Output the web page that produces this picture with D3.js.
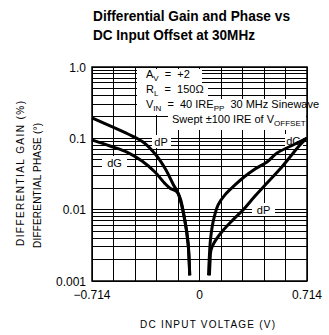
<!DOCTYPE html>
<html><head><meta charset="utf-8">
<script src="https://cdn.jsdelivr.net/npm/d3@7"></script>
<style>
html,body{margin:0;padding:0;background:#fff;}
svg{display:block;}
</style></head>
<body>
<script>
// ---------- data ----------
const titleLines = ["Differential Gain and Phase vs", "DC Input Offset at 30MHz"];
const xTickValues = [-0.714, 0, 0.714];
const xTickLabels = ["\u22120.714", "0", "0.714"];
const yTickValues = [1.0, 0.1, 0.01, 0.001];
const yTickLabels = ["1.0", "0.1", "0.01", "0.001"];
const xAxisTitle = "DC INPUT VOLTAGE (V)";
const yAxisTitle1 = "DIFFERENTIAL GAIN (%)";
const yAxisTitle2 = "DIFFERENTIAL PHASE (\u00B0)";

// left branch (negative offset)
const dGLeftX = [-0.714, -0.594, -0.482, -0.382, -0.296, -0.229, -0.196, -0.143, -0.098, -0.076, -0.065];
const dGLeftY = [0.095, 0.078, 0.064, 0.048, 0.0337, 0.0232, 0.0200, 0.0171, 0.0072, 0.0034, 0.0012];
const dPLeftX = [-0.714, -0.594, -0.475, -0.375, -0.289, -0.2225, -0.176, -0.143, -0.098, -0.076, -0.065];
const dPLeftY = [0.193, 0.149, 0.115, 0.089, 0.0584, 0.036, 0.0229, 0.0171, 0.0072, 0.0034, 0.0012];
// right branch (positive offset)
const dGRightX = [0.060, 0.066, 0.073, 0.090, 0.123, 0.169, 0.236, 0.296, 0.369, 0.448, 0.515, 0.621, 0.714];
const dGRightY = [0.0012, 0.0023, 0.0038, 0.0067, 0.0116, 0.0161, 0.0222, 0.0287, 0.0372, 0.0466, 0.0622, 0.0806, 0.101];
const dPRightX = [0.066, 0.070, 0.076, 0.096, 0.149, 0.2225, 0.289, 0.369, 0.455, 0.535, 0.601, 0.661, 0.714];
const dPRightY = [0.0012, 0.00185, 0.0027, 0.0034, 0.0049, 0.0072, 0.0099, 0.0155, 0.0244, 0.0372, 0.0547, 0.078, 0.101];

const annotationRows = [
  [{t:"A"},{t:"V",sub:true},{t:"  =  +2"}],
  [{t:"R"},{t:"L",sub:true},{t:"  =  150\u03A9"}],
  [{t:"V"},{t:"IN",sub:true},{t:"  =  40 IRE"},{t:"PP",sub:true},{t:"  30 MHz Sinewave"}],
  [{t:"Swept \u00B1100 IRE of V"},{t:"OFFSET",sub:true}]
];

// ---------- layout ----------
const pL = 92, pR = 307, pT = 67, pB = 281;
const svg = d3.select("body").append("svg").attr("width", 329).attr("height", 335);
const xS = d3.scaleLinear().domain([-0.714, 0.714]).range([pL, pR]);
const yS = d3.scaleLog().domain([0.001, 1]).range([pB, pT]);
const annoFont = "'Liberation Sans',Arial,sans-serif";

const rowBox = [[137, 68.5, 202, 84], [137, 84, 208, 99], [137, 99, 306, 114.5], [168, 114.5, 306, 130]];
const rowBase = [77.5, 92.5, 107.5, 123];
const rowX = [146, 146, 146, 172];
const seriesLabels = [
  {t:"dP", cx:161, cy:142, w:19},
  {t:"dG", cx:114.5, cy:163, w:25},
  {t:"dG", cx:293.5, cy:141, w:18},
  {t:"dP", cx:263.5, cy:210, w:23}
];
const boxes = rowBox.slice();
seriesLabels.forEach(l => boxes.push([l.cx - l.w/2, l.cy - 7, l.cx + l.w/2, l.cy + 6]));

function gaps(a0, a1, cuts) {
  cuts.sort((p, q) => p[0] - q[0]);
  const out = [];
  let cur = a0;
  cuts.forEach(c => {
    if (c[0] > cur) out.push([cur, Math.min(c[0], a1)]);
    cur = Math.max(cur, c[1]);
  });
  if (cur < a1) out.push([cur, a1]);
  return out;
}

// annotation text
annotationRows.forEach((row, i) => {
  const t = svg.append("text").attr("x", rowX[i]).attr("y", rowBase[i])
    .attr("font-family", annoFont).attr("font-size", 11)
    .attr("xml:space", "preserve");
  let shift = 0;
  row.forEach(p => {
    const target = p.sub ? 3 : 0;
    t.append("tspan").attr("font-size", p.sub ? 8 : 11)
      .attr("dy", target - shift)
      .text(p.t);
    shift = target;
  });
});

// series labels
seriesLabels.forEach(l => {
  svg.append("text").attr("x", l.cx).attr("y", l.cy + 4).attr("text-anchor", "middle")
    .attr("font-family", annoFont).attr("font-size", 11).text(l.t);
});

// title
titleLines.forEach((d, i) => {
  svg.append("text")
    .attr("x", 93).attr("y", 21 + i * 18.5)
    .attr("font-family", "'Liberation Sans Narrow','Arial Narrow','Liberation Sans',sans-serif")
    .attr("font-weight", "bold").attr("font-size", 14.5)
    .attr("textLength", i === 0 ? 197 : 162)
    .attr("lengthAdjust", "spacingAndGlyphs")
    .text(d);
});

// y tick labels
yTickValues.forEach((d, i) => {
  svg.append("text").attr("x", 86).attr("y", yS(d) + 4.5).attr("text-anchor", "end")
    .attr("font-family", annoFont).attr("font-size", 12).text(yTickLabels[i]);
});

// x tick labels
xTickValues.forEach((d, i) => {
  svg.append("text").attr("x", xS(d)).attr("y", 299).attr("text-anchor", "middle")
    .attr("font-family", annoFont).attr("font-size", 12).text(xTickLabels[i]);
});

// axis titles
svg.append("text").attr("x", 140).attr("y", 328)
  .attr("font-family", annoFont).attr("font-size", 10)
  .attr("textLength", 135).attr("lengthAdjust", "spacing")
  .text(xAxisTitle);
svg.append("text").attr("transform", "translate(24,246) rotate(-90)")
  .attr("font-family", annoFont).attr("font-size", 10)
  .attr("textLength", 145).attr("lengthAdjust", "spacing")
  .text(yAxisTitle1);
svg.append("text").attr("transform", "translate(41,248) rotate(-90)")
  .attr("font-family", annoFont).attr("font-size", 10)
  .attr("textLength", 125).attr("lengthAdjust", "spacing")
  .text(yAxisTitle2);

// grid as 1px filled rects (snapped to pixels), with gaps behind the labels
const gridG = svg.append("g").attr("shape-rendering", "crispEdges");
const xGrid = d3.range(11).map(i => -0.714 + i * 0.1428);
const yGrid = [];
[0.001, 0.01, 0.1].forEach(dec => { for (let m = 1; m <= 9; m++) yGrid.push(m * dec); });
yGrid.push(1);
xGrid.forEach(v => {
  const X = xS(v);
  const cuts = boxes.filter(b => X >= b[0] && X <= b[2]).map(b => [b[1], b[3]]);
  gaps(pT, pB, cuts).forEach(s => {
    gridG.append("rect").attr("x", Math.round(X - 0.5)).attr("y", s[0])
      .attr("width", 1).attr("height", s[1] - s[0]).attr("fill", "#000");
  });
});
yGrid.forEach(v => {
  const Y = yS(v);
  const cuts = boxes.filter(b => Y >= b[1] && Y <= b[3]).map(b => [b[0], b[2]]);
  gaps(pL, pR, cuts).forEach(s => {
    gridG.append("rect").attr("x", s[0]).attr("y", Math.round(Y - 0.5))
      .attr("width", s[1] - s[0]).attr("height", 1).attr("fill", "#000");
  });
});

// frame
svg.append("rect").attr("x", pL).attr("y", pT).attr("width", pR - pL).attr("height", pB - pT)
  .attr("fill", "none").attr("stroke", "#000").attr("stroke-width", 1.5);

// curves
const lineGen = d3.line().x(d => xS(d[0])).y(d => yS(d[1])).curve(d3.curveCatmullRom.alpha(0.5));
const seriesList = [
  d3.zip(dGLeftX, dGLeftY), d3.zip(dPLeftX, dPLeftY),
  d3.zip(dGRightX, dGRightY), d3.zip(dPRightX, dPRightY)
];
seriesList.forEach(s => {
  svg.append("path").attr("d", lineGen(s)).attr("fill", "none").attr("stroke", "#000")
    .attr("stroke-width", 3).attr("stroke-linejoin", "round");
});
</script>
</body></html>
